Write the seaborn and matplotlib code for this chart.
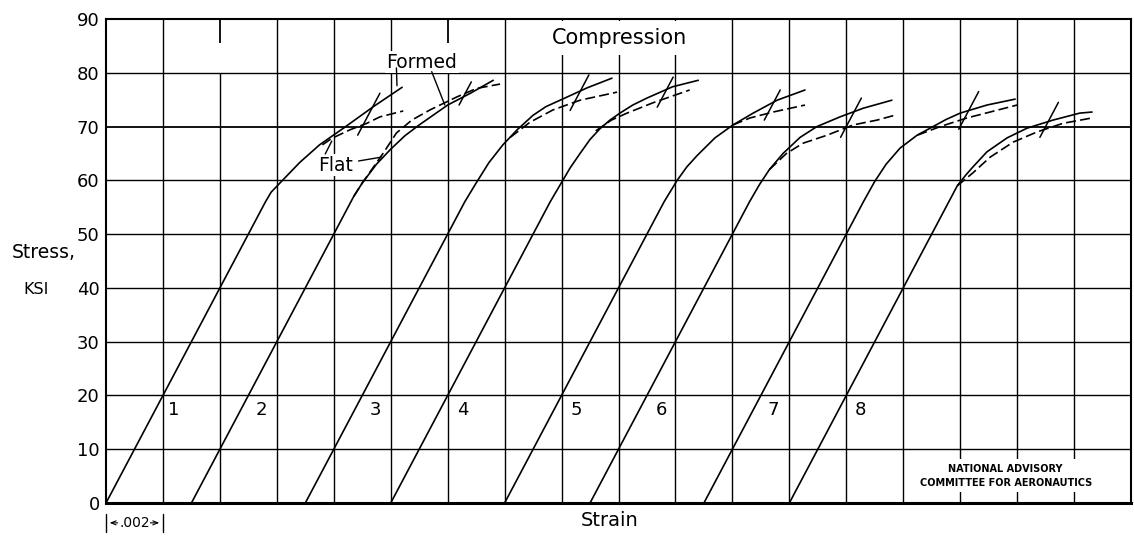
import numpy as np
import pandas as pd
import matplotlib
matplotlib.use("Agg")
import matplotlib.pyplot as plt
import matplotlib.transforms as mtransforms
import seaborn as sns

origins = [0.0, 3.0, 7.0, 10.0, 14.0, 17.0, 21.0, 24.0]
curve_names = ["1", "2", "3", "4", "5", "6", "7", "8"]

formed_strain = [
    [0.0, 5.6, 5.8, 6.2, 6.8, 7.5, 8.34, 9.39, 10.4],
    [3.0, 8.7, 9.0, 9.5, 10.0, 10.5, 11.0, 12.0, 12.8, 13.6],
    [7.0, 12.6, 13.0, 13.45, 13.94, 14.44, 15.0, 15.45, 15.95, 16.9, 17.77],
    [10.0, 15.6, 16.0, 16.3, 16.65, 17.0, 17.35, 17.7, 18.05, 18.5, 19.0, 19.9, 20.8],
    [14.0, 19.6, 20.06, 20.4, 20.76, 21.39, 22.02, 22.73, 23.57, 24.55],
    [17.0, 22.6, 22.95, 23.3, 23.78, 24.38, 24.97, 25.78, 26.59, 27.6],
    [21.0, 26.6, 27.0, 27.4, 27.89, 28.49, 29.05, 29.5, 30.0, 30.94, 31.93],
    [24.0, 29.6, 29.9, 30.2, 30.45, 30.94, 31.65, 32.35, 33.26, 34.2, 34.63],
]
formed_stress = [
    [0, 56.0, 57.8, 60.0, 63.3, 66.6, 69.7, 73.7, 77.3],
    [0, 57.0, 59.5, 63.0, 65.8, 68.3, 70.3, 74.0, 76.2, 78.6],
    [0, 56.0, 59.5, 63.3, 66.6, 69.4, 72.1, 73.7, 74.9, 77.2, 79.0],
    [0, 56.0, 59.6, 62.3, 65.0, 67.6, 69.6, 71.2, 72.5, 74.0, 75.3, 77.4, 78.6],
    [0, 56.0, 60.0, 62.5, 64.6, 67.9, 70.3, 72.5, 74.9, 76.8],
    [0, 56.0, 59.2, 62.0, 65.0, 68.0, 70.0, 71.8, 73.4, 74.9],
    [0, 56.0, 59.8, 63.0, 66.0, 68.4, 70.0, 71.3, 72.5, 74.0, 75.1],
    [0, 56.0, 59.0, 61.0, 62.5, 65.3, 67.9, 69.7, 71.2, 72.5, 72.7],
]

flat_strain = [
    [7.6, 7.93, 8.57, 9.16, 9.62, 10.44],
    [8.7, 9.0, 9.73, 10.2, 10.74, 11.38, 12.32, 13.02, 13.84],
    [14.2, 14.89, 15.7, 16.65, 17.95],
    [17.2, 17.75, 18.3, 19.2, 20.5],
    [22.02, 22.62, 23.43, 24.55],
    [23.3, 23.9, 24.48, 25.33, 26.24, 27.08, 27.7],
    [28.5, 29.3, 30.24, 31.05, 32.0],
    [29.9, 30.45, 31.05, 31.86, 32.7, 33.61, 34.63],
]
flat_stress = [
    [66.6, 67.8, 69.4, 70.6, 71.8, 72.9],
    [57.0, 59.5, 65.0, 68.8, 71.2, 73.1, 75.5, 77.1, 77.9],
    [68.0, 70.8, 73.1, 74.9, 76.4],
    [69.2, 71.2, 72.5, 74.4, 76.8],
    [70.3, 71.6, 72.7, 74.0],
    [62.0, 65.0, 66.9, 68.4, 70.3, 71.2, 72.1],
    [68.4, 70.0, 71.6, 72.7, 74.0],
    [59.0, 61.4, 64.3, 67.1, 69.0, 70.6, 71.6],
]

# short 0.2% offset marks: stress span of each
offset_lo = [68.4, 74.0, 73.0, 73.6, 71.2, 68.0, 69.5, 68.0]
offset_hi = [76.2, 78.3, 79.6, 79.2, 76.8, 75.3, 76.5, 74.5]
modulus = 10.0  # ksi per 0.001 strain (20 ksi at .002)

label_x = [2.18, 5.24, 9.27, 12.33, 16.3, 19.3, 23.22, 26.3]
label_y = 17.3

# build long table for seaborn
rows = []
for i, name in enumerate(curve_names):
    for e, s in zip(formed_strain[i], formed_stress[i]):
        rows.append((name + "f", "formed", e / 1000, s))
    for e, s in zip(flat_strain[i], flat_stress[i]):
        rows.append((name + "d", "flat", e / 1000, s))
df = pd.DataFrame(rows, columns=["line", "kind", "strain", "stress"])

mark_rows = []
for i, name in enumerate(curve_names):
    for s in (offset_lo[i], offset_hi[i]):
        mark_rows.append((name, (origins[i] + 2.0 + s / modulus) / 1000, s))
marks = pd.DataFrame(mark_rows, columns=["line", "strain", "stress"])

sns.set_theme(style="white")
plt.rcParams["font.family"] = ["DejaVu Sans"]
plt.rcParams["text.color"] = "black"
plt.rcParams["axes.labelcolor"] = "black"

fig = plt.figure(figsize=(11.34, 5.41), dpi=100)
ax = fig.add_axes([106 / 1134, 38 / 541, 1025 / 1134, 484 / 541])
ax.set_xlim(0, 0.036)
ax.set_ylim(0, 90)

# hand drawn grid, with gaps in the top row
grid_x = np.arange(0.002, 0.036, 0.002)
for gx in grid_x:
    if abs(gx - 0.004) < 1e-9 or abs(gx - 0.012) < 1e-9:
        ax.vlines(gx, 0, 80, color="black", lw=1.0, zorder=1)
        ax.vlines(gx, 85.5, 90, color="black", lw=1.3, zorder=1)
    else:
        ax.vlines(gx, 0, 90, color="black", lw=1.0, zorder=1)
for gy in range(10, 90, 10):
    ax.hlines(gy, 0, 0.036, color="black", lw=1.3 if gy == 70 else 1.0, zorder=1)

sns.lineplot(data=df, x="strain", y="stress", units="line", estimator=None,
             style="kind", dashes={"formed": "", "flat": (6, 2.5)},
             color="black", lw=1.2, sort=False, legend=False, ax=ax, zorder=3)
sns.lineplot(data=marks, x="strain", y="stress", units="line", estimator=None,
             color="black", lw=1.1, sort=False, legend=False, ax=ax, zorder=3)

for i, name in enumerate(curve_names):
    ax.text(label_x[i] / 1000, label_y, name, fontsize=13, ha="left", va="center",
            color="black", zorder=4)

ax.text(0.01805, 86.4, "Compression", fontsize=15, ha="center", va="center",
        color="black", zorder=4,
        bbox=dict(facecolor="white", edgecolor="none", pad=5))
ax.text(0.01110, 82.0, "Formed", fontsize=13.5, ha="center", va="center",
        color="black", zorder=4,
        bbox=dict(facecolor="white", edgecolor="none", pad=1))
ax.plot([0.01020, 0.01022], [80.9, 77.6], color="black", lw=1.0, zorder=4)
ax.plot([0.01144, 0.01190], [80.2, 74.0], color="black", lw=1.0, zorder=4)
ax.text(0.00808, 62.8, "Flat", fontsize=13.5, ha="center", va="center",
        color="black", zorder=4,
        bbox=dict(facecolor="white", edgecolor="none", pad=1))
ax.plot([0.00770, 0.00793], [64.9, 67.3], color="black", lw=1.0, zorder=4)
ax.plot([0.00887, 0.00966], [63.6, 64.3], color="black", lw=1.0, zorder=4)

ax.text(0.0316, 5.1, "NATIONAL ADVISORY\nCOMMITTEE FOR AERONAUTICS", fontsize=7,
        fontweight="bold", ha="center", va="center", linespacing=1.5,
        color="black", zorder=4,
        bbox=dict(facecolor="white", edgecolor="none", pad=3))

ax.set_yticks(range(0, 100, 10))
ax.set_xticks([])
ax.tick_params(axis="y", length=0, pad=4.5, labelsize=13, colors="black")
ax.set_xlabel("")
ax.set_ylabel("")
for side, sp in ax.spines.items():
    sp.set_visible(True)
    sp.set_color("black")
    sp.set_linewidth(1.5)
ax.spines["bottom"].set_linewidth(2.2)

fig.text(12 / 1134, 1 - 252 / 541, "Stress,", fontsize=13.5, ha="left", va="center")
fig.text(23 / 1134, 1 - 289 / 541, "KSI", fontsize=11.5, ha="left", va="center")
fig.text(610 / 1134, 1 - 521 / 541, "Strain", fontsize=14, ha="center", va="center")

# .002 scale marker under the axis
trans = mtransforms.blended_transform_factory(ax.transData, ax.transAxes)
for bx in (0.0, 0.002):
    ax.plot([bx, bx], [-0.022, -0.06], transform=trans, color="black", lw=1.0,
            clip_on=False)
ax.annotate("", xy=(0.00003, -0.041), xytext=(0.00197, -0.041), xycoords=trans,
            textcoords=trans,
            arrowprops=dict(arrowstyle="<->,head_length=0.3,head_width=0.12",
                            color="black", lw=0.8))
ax.text(0.001, -0.041, ".002", transform=trans, fontsize=10, ha="center",
        va="center", bbox=dict(facecolor="white", edgecolor="none", pad=0.5))

fig.savefig("out.png", dpi=100, facecolor="white")
